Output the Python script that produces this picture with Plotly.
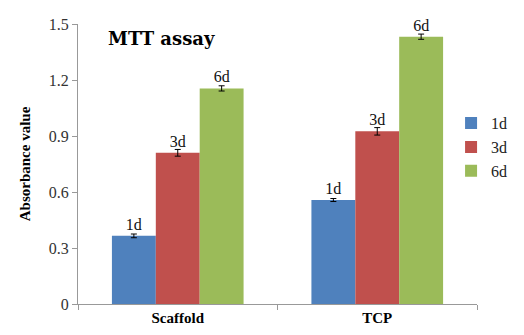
import plotly.graph_objects as go

categories = ["Scaffold", "TCP"]
series_names = ["1d", "3d", "6d"]
values_1d = [0.365, 0.557]
values_3d = [0.81, 0.925]
values_6d = [1.155, 1.432]
err_1d = [0.01, 0.008]
err_3d = [0.018, 0.02]
err_6d = [0.014, 0.014]
colors = ["#4F81BD", "#C0504D", "#9BBB59"]
y_ticks = [0, 0.3, 0.6, 0.9, 1.2, 1.5]

serif = "Liberation Serif"

fig = go.Figure()
for name, vals, errs, col in zip(series_names, [values_1d, values_3d, values_6d],
                                 [err_1d, err_3d, err_6d], colors):
    fig.add_trace(go.Bar(
        x=categories, y=vals, name=name,
        marker=dict(color=col, line=dict(width=0)),
        error_y=dict(type="data", array=errs, color="black", thickness=1, width=3),
        text=[name for _ in vals], textposition="outside",
        textfont=dict(family=serif, size=16, color="#111"),
        cliponaxis=False,
    ))

# page body has an 8px margin, so the figure is drawn 8px in from the top-left
fig.update_layout(
    width=516, height=327,
    margin=dict(l=70, r=36, t=16, b=31),
    paper_bgcolor="white", plot_bgcolor="white",
    barmode="group", bargap=0.34, bargroupgap=0,
    font=dict(family=serif, size=15, color="#222"),
    showlegend=True,
    legend=dict(x=0.935, y=0.56, xanchor="left", yanchor="middle",
                font=dict(family=serif, size=16, color="#222"),
                tracegroupgap=8, itemwidth=30),
    annotations=[dict(text="<b>MTT assay</b>", xref="paper", yref="paper",
                      x=0.07, y=0.95, xanchor="left", yanchor="middle",
                      showarrow=False, font=dict(family="DejaVu Serif", size=18, color="black"))],
)
fig.update_xaxes(
    automargin=False,
    showline=True, linecolor="#999", linewidth=1,
    ticks="outside", tickson="boundaries", ticklen=5, tickcolor="#999",
    tickfont=dict(family=serif, size=15, color="black"),
    ticktext=["<b>Scaffold</b>", "<b>TCP</b>"], tickvals=categories,
    showgrid=False,
)
fig.update_yaxes(
    automargin=False,
    range=[0, 1.5], tickvals=y_ticks, ticktext=[f"{v:g}" for v in y_ticks],
    showline=True, linecolor="#999", linewidth=1,
    ticks="outside", ticklen=5, tickcolor="#999",
    tickfont=dict(family=serif, size=16, color="#333"),
    showgrid=False, zeroline=False,
    title=dict(text="<b>Absorbance value</b>", standoff=14,
               font=dict(family=serif, size=15, color="black")),
)

fig.write_html("out.html")
